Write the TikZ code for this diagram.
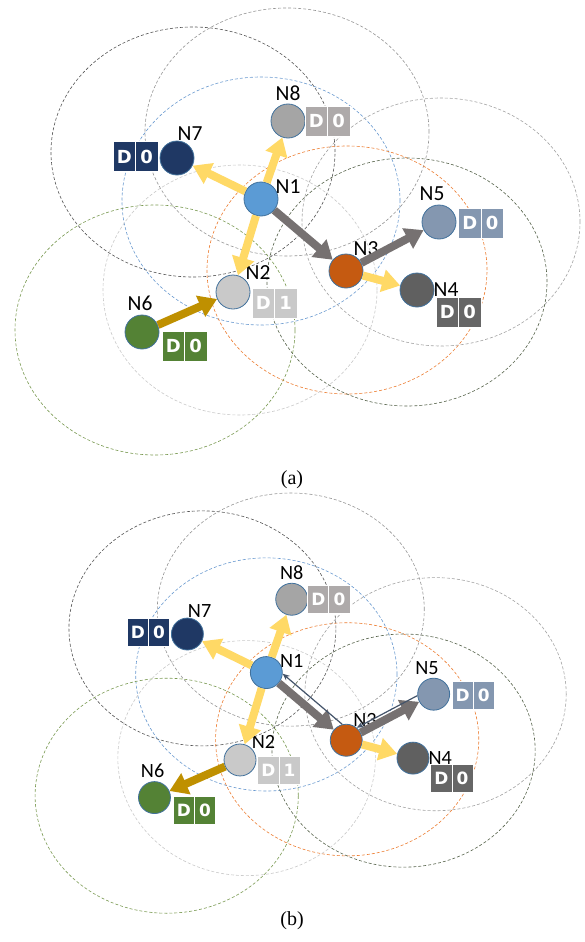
\documentclass[tikz,border=0pt]{standalone}
\usepackage{fontspec}
\setmainfont{Carlito}
\newfontfamily\boxfont{DejaVu Sans}
\newfontfamily\capfont{Liberation Serif}
\usetikzlibrary{arrows.meta}
\definecolor{cNa}{HTML}{5B9BD5}
\definecolor{cNb}{HTML}{C9C9C9}
\definecolor{cNc}{HTML}{C55A11}
\definecolor{cNd}{HTML}{606060}
\definecolor{cNe}{HTML}{8497B0}
\definecolor{cNf}{HTML}{548235}
\definecolor{cNg}{HTML}{1F3864}
\definecolor{cNh}{HTML}{A5A5A5}
\definecolor{bxb}{HTML}{C9C9C9}
\definecolor{bxd}{HTML}{666666}
\definecolor{bxe}{HTML}{8497B0}
\definecolor{bxf}{HTML}{548235}
\definecolor{bxg}{HTML}{1F3864}
\definecolor{bxh}{HTML}{AEAAAA}
\definecolor{nodeline}{HTML}{41719C}
\definecolor{yel}{HTML}{FFD966}
\definecolor{grayarr}{HTML}{767171}
\definecolor{gold}{HTML}{BF9000}
\definecolor{navyline}{HTML}{44546A}
\definecolor{rg}{HTML}{555555}
\definecolor{rh}{HTML}{959595}
\definecolor{ra}{HTML}{6A9AD0}
\definecolor{rc}{HTML}{ED7D31}
\definecolor{re}{HTML}{A3A3A3}
\definecolor{rd}{HTML}{56634A}
\definecolor{rf}{HTML}{7A9A52}
\definecolor{rb}{HTML}{CACACA}
\tikzset{
  dev/.style={circle, minimum size=34pt, inner sep=0pt, draw=nodeline, line width=0.8pt},
  lab/.style={font=\fontsize{21.5}{21.5}\selectfont, inner sep=0pt},
  cell/.style={minimum width=22.5pt, minimum height=30pt, inner sep=0pt, draw=white, line width=0.8pt, text=white, font=\boxfont\bfseries\fontsize{18}{18}\selectfont},
  rangeline/.style={dash pattern=on 3pt off 2pt, line width=0.6pt},
  fat/.style={line width=8pt, -{Triangle[length=18pt,width=22pt]}},
  thinarr/.style={line width=1.2pt, draw=navyline, -{Stealth[length=7pt,width=6pt]}},
  capt/.style={font=\capfont\fontsize{20}{20}\selectfont, inner sep=0pt}
}
\newcommand\drawpanel[1]{%
  % range ellipses
  \draw[rangeline, draw=rg] (193,152) ellipse [x radius=142pt, y radius=125pt];
  \draw[rangeline, draw=rh] (287,132) ellipse [x radius=142pt, y radius=124pt];
  \draw[rangeline, draw=ra] (261,201) ellipse [x radius=139pt, y radius=124pt];
  \draw[rangeline, draw=rc] (347,270) ellipse [x radius=140pt, y radius=124pt];
  \draw[rangeline, draw=re] (441,222) ellipse [x radius=139pt, y radius=124pt];
  \draw[rangeline, draw=rd] (407,282) ellipse [x radius=140pt, y radius=124pt];
  \draw[rangeline, draw=rf] (155,330) ellipse [x radius=140pt, y radius=125pt];
  \draw[rangeline, draw=rb] (240,290) ellipse [x radius=137pt, y radius=125pt];
  % devices
  \node[dev, fill=cNa] (#1n1) at (261,199) {};
  \node[dev, fill=cNb] (#1n2) at (233,292) {};
  \node[dev, fill=cNc] (#1n3) at (346,271) {};
  \node[dev, fill=cNd] (#1n4) at (417,290) {};
  \node[dev, fill=cNe] (#1n5) at (439,222) {};
  \node[dev, fill=cNf] (#1n6) at (142,332) {};
  \node[dev, fill=cNg] (#1n7) at (177,158) {};
  \node[dev, fill=cNh] (#1n8) at (288,121) {};
  % labels
  \node[lab] (#1l1) at (288,187) {N1};
  \node[lab] (#1l2) at (258,273) {N2};
  \node[lab] (#1l3) at (366,249) {N3};
  \node[lab] (#1l4) at (446,290) {N4};
  \node[lab] (#1l5) at (432,194) {N5};
  \node[lab] (#1l6) at (140,303) {N6};
  \node[lab] (#1l7) at (190,134) {N7};
  \node[lab] (#1l8) at (288,93) {N8};
  % state boxes
  \node[cell, fill=bxg] (#1d7) at (124.25,156.5) {D};
  \node[cell, fill=bxg] (#1z7) at (146.75,156.5) {0};
  \node[cell, fill=bxh] (#1d8) at (316.25,121) {D};
  \node[cell, fill=bxh] (#1z8) at (338.75,121) {0};
  \node[cell, fill=bxe] (#1d5) at (469.75,223) {D};
  \node[cell, fill=bxe] (#1z5) at (492.25,223) {0};
  \node[cell, fill=bxd] (#1d4) at (447.25,312) {D};
  \node[cell, fill=bxd] (#1z4) at (469.75,312) {0};
  \node[cell, fill=bxb] (#1d2) at (263.25,303) {D};
  \node[cell, fill=bxb] (#1z2) at (285.75,303) {1};
  \node[cell, fill=bxf] (#1d6) at (173.25,346) {D};
  \node[cell, fill=bxf] (#1z6) at (195.75,346) {0};
  % common arrows
  \draw[fat, draw=yel, fill=yel] (#1n1) -- (#1n7);
  \draw[fat, draw=yel, fill=yel] (#1n1) -- (#1n8);
  \draw[fat, draw=yel, fill=yel] (#1n1) -- (#1n2);
  \draw[fat, draw=grayarr, fill=grayarr] (#1n1) -- (#1n3);
  \draw[fat, draw=grayarr, fill=grayarr] (#1n3) -- (#1n5);
  \draw[fat, draw=yel, fill=yel] (#1n3) -- (#1n4);
}
\begin{document}
\begin{tikzpicture}[x=1pt, y=-1pt]
  \fill[white] (0,0) rectangle (584,942);
  \useasboundingbox (0,0) rectangle (584,942);
  \begin{scope}
    \drawpanel{a}
    \draw[fat, draw=gold, fill=gold] (an6) -- (an2);
  \end{scope}
  \node[capt] (capa) at (292,480) {(a)};
  \begin{scope}[shift={(21,485.5)}, scale=0.94, transform shape]
    \drawpanel{b}
    \draw[fat, draw=gold, fill=gold] (bn2) -- (bn6);
    \draw[thinarr] (bn3.104) -- (bn1.-4);
    \draw[thinarr] (bn5.185) -- (bn3.50);
  \end{scope}
  \node[capt] (capb) at (292,921) {(b)};
\end{tikzpicture}
\end{document}
